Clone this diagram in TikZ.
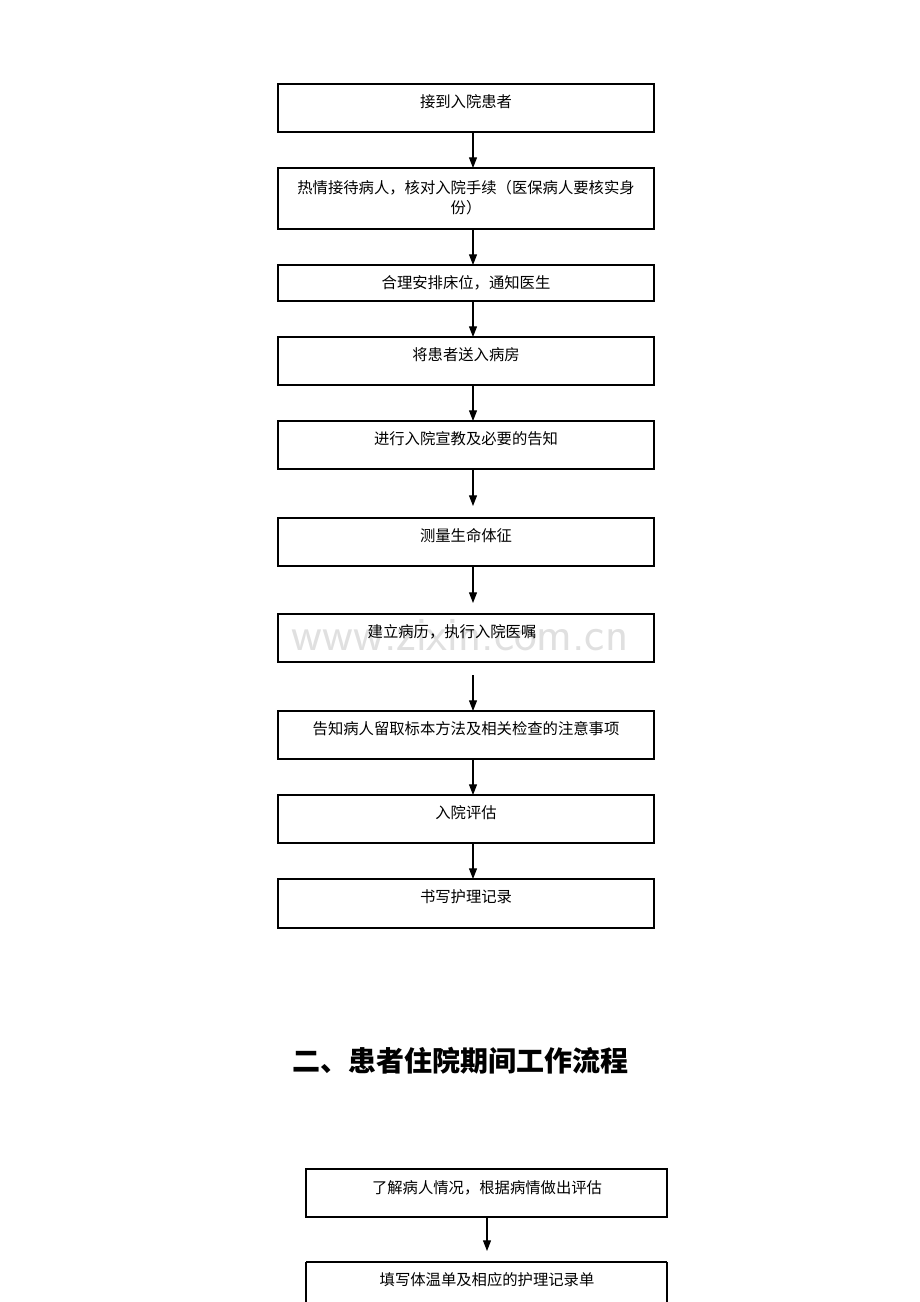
\documentclass[tikz,border=0pt]{standalone}
\usepackage{fontspec}
\setmainfont{Noto Sans CJK SC}
\usetikzlibrary{arrows.meta}
\begin{document}
\begin{tikzpicture}[x=0.75pt,y=-0.75pt,
  box/.style={draw,line width=0.8pt},
  lbl/.style={font=\fontsize{11.5pt}{15pt}\selectfont,align=center},
  arr/.style={-{Triangle[length=8pt,width=6pt]},line width=0.8pt}]
\useasboundingbox (0,0) rectangle (920,1302);
\node[font=\fontsize{36pt}{36pt}\selectfont\sffamily,text=black!12] (wm) at (460,635) {www.zixin.com.cn};
\foreach \n/\a/\b in {b1/84/132,b2/168/229,b3/265/301,b4/337/385,b5/421/469,b6/518/566,b7/614/662,b8/711/759,b9/795/843,b10/879/928}{
  \draw[box] (278,\a) rectangle (654,\b);
  \coordinate (\n t) at (473,\a); \coordinate (\n b) at (473,\b);}
\node[lbl] (t1) at (466,102) {接到入院患者};
\node[lbl] (t2) at (466,198) {热情接待病人，核对入院手续（医保病人要核实身\\份）};
\node[lbl] (t3) at (466,283) {合理安排床位，通知医生};
\node[lbl] (t4) at (466,355) {将患者送入病房};
\node[lbl] (t5) at (466,439) {进行入院宣教及必要的告知};
\node[lbl] (t6) at (466,536) {测量生命体征};
\node[lbl] (t7) at (452,632) {建立病历，执行入院医嘱};
\node[lbl] (t8) at (466,729) {告知病人留取标本方法及相关检查的注意事项};
\node[lbl] (t9) at (466,813) {入院评估};
\node[lbl] (t10) at (466,897) {书写护理记录};
\draw[arr] (b1b) -- (b2t);
\draw[arr] (b2b) -- (b3t);
\draw[arr] (b3b) -- (b4t);
\draw[arr] (b4b) -- (b5t);
\coordinate (a5) at (473,506); \draw[arr] (b5b) -- (a5);
\coordinate (s6) at (473,567); \coordinate (a6) at (473,603); \draw[arr] (s6) -- (a6);
\coordinate (s7) at (473,675); \draw[arr] (s7) -- (b8t);
\draw[arr] (b8b) -- (b9t);
\draw[arr] (b9b) -- (b10t);
\node[font=\fontsize{21pt}{24pt}\selectfont\bfseries] (title) at (460,1061) {二、患者住院期间工作流程};
\draw[box] (306,1169) rectangle (667,1217);
\node[lbl] (t11) at (487,1188) {了解病人情况，根据病情做出评估};
\coordinate (s11) at (487,1217); \coordinate (a11) at (487,1251);
\draw[arr] (s11) -- (a11);
\draw[box] (306,1262) -- (306,1310) (667,1262) -- (667,1310) (306,1262) -- (667,1262);
\node[lbl] (t12) at (487,1280) {填写体温单及相应的护理记录单};
\end{tikzpicture}
\end{document}
